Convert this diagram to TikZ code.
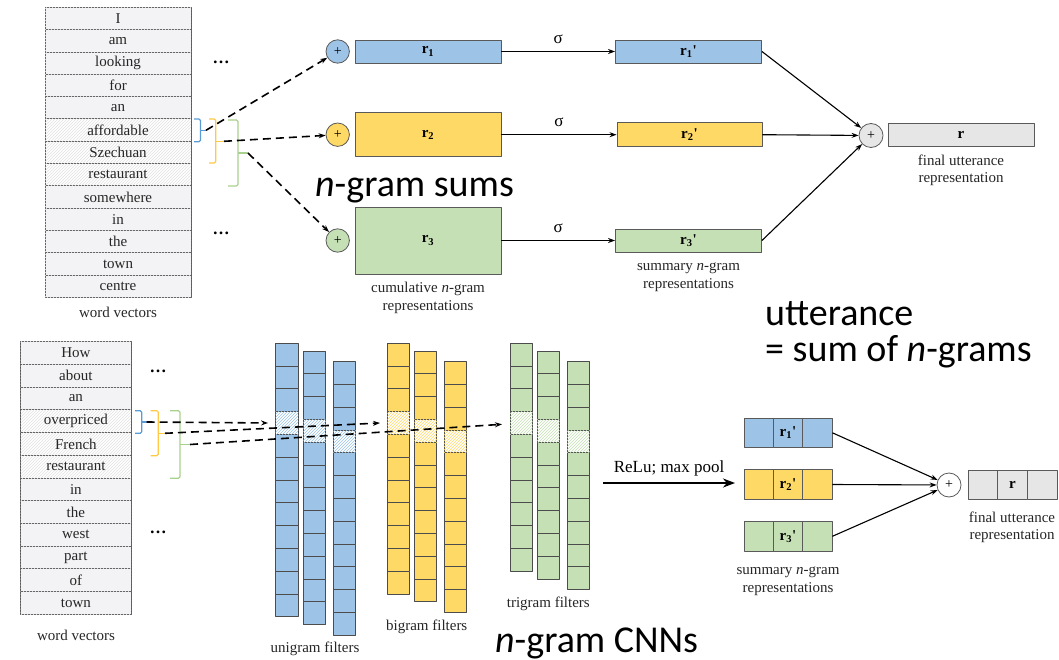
\documentclass[tikz,border=0pt]{standalone}
\usepackage{fontspec}
\setmainfont{Liberation Serif}
\newfontfamily\calib{Carlito}
\usepackage{tikz}
\usetikzlibrary{arrows.meta,patterns}

\definecolor{cellgray}{HTML}{F3F3F5}
\definecolor{hatchgray}{HTML}{E2E2E4}
\definecolor{linegray}{HTML}{5A5A5A}
\definecolor{bluefill}{HTML}{9DC3E6}
\definecolor{yellowfill}{HTML}{FFD966}
\definecolor{greenfill}{HTML}{C5E0B4}
\definecolor{sumgray}{HTML}{E7E6E6}
\definecolor{braceblue}{HTML}{5B9BD5}
\definecolor{braceyellow}{HTML}{FFC845}
\definecolor{bracegreen}{HTML}{A9D18E}

\begin{document}
\begin{tikzpicture}[x=1pt,y=-1pt,line join=round,
  word/.style={draw=linegray,line width=0.9pt,inner sep=0pt,text=black!85,font=\fontsize{15}{16}\selectfont},
  vec/.style={draw=linegray,line width=0.9pt,inner sep=0pt,minimum width=146pt,font=\fontsize{15}{16}\selectfont\bfseries},
  plus/.style={circle,draw=linegray,line width=0.8pt,inner sep=0pt,minimum size=23.4pt,font=\fontsize{14}{14}\selectfont},
  cell/.style={draw=linegray,line width=0.9pt,inner sep=0pt,minimum width=29.3pt,minimum height=29.5pt,font=\fontsize{15}{16}\selectfont\bfseries},
  filt/.style={draw=black!70,line width=0.9pt},
  brace/.style={line width=1.2pt,rounded corners=1.5pt},
  dasharrow/.style={line width=1.6pt,dash pattern=on 8pt off 5pt,-{Stealth[length=7pt,width=5pt]}},
  arr/.style={line width=1.1pt,-{Stealth[length=7pt,width=5pt]}},
  lbl/.style={align=center,text=black!85,font=\fontsize{15}{17.5}\selectfont},
  big/.style={anchor=base west,inner sep=0pt,font=\calib\fontsize{38}{38}\selectfont}]

\useasboundingbox (0,0) rectangle (1059,660);

\foreach \w/\f/\p [count=\i] in {I/cellgray/cellgray,am/cellgray/cellgray,looking/cellgray/cellgray,for/cellgray/cellgray,an/cellgray/cellgray,affordable/white/hatchgray,Szechuan/white/hatchgray,restaurant/white/hatchgray,somewhere/cellgray/cellgray,in/cellgray/cellgray,the/cellgray/cellgray,town/cellgray/cellgray,centre/cellgray/cellgray}
  \node[word,fill=\f,postaction={pattern=north east lines,pattern color=\p},minimum width=146pt,minimum height=22.33pt] (t\i) at (118,{7.3+22.33*(\i-0.5)}) {\w};
\node[lbl] (tw) at (118,312) {word vectors};
\node[font=\fontsize{17}{17}\selectfont\bfseries] (td1) at (221,62) {\dots};
\node[font=\fontsize{17}{17}\selectfont\bfseries] (td2) at (221,233) {\dots};

\draw[brace,braceblue] (194,119) -- (200.5,119) -- (200.5,141.7) -- (194,141.7);
\draw[brace,braceyellow] (209,119) -- (215.7,119) -- (215.7,163) -- (209,163);
\draw[brace,bracegreen] (228,120) -- (238,120) -- (238,186) -- (228,186);
\coordinate (tb) at (206,130.3);
\coordinate (ty) at (224,141.3);
\coordinate (tg) at (248,153);
\draw[brace,braceblue] (200.5,130.3) -- (tb);
\draw[brace,braceyellow] (215.7,141.3) -- (ty);
\draw[brace,bracegreen] (238,153) -- (tg);

\node[plus,fill=bluefill] (p1) at (337.7,51.5) {+};
\node[plus,fill=yellowfill] (p2) at (337.7,134.7) {+};
\node[plus,fill=greenfill] (p3) at (337.7,240.5) {+};
\draw[dasharrow] (tb) -- (p1);
\draw[dasharrow] (ty) -- (p2);
\draw[dasharrow] (tg) -- (p3);

\node[vec,fill=bluefill,minimum height=23pt] (r1) at (428,51.5) {r\textsubscript{1}};
\node[vec,fill=yellowfill,minimum height=44pt] (r2) at (428,134.7) {r\textsubscript{2}};
\node[vec,fill=greenfill,minimum height=67pt] (r3) at (428,240.5) {r\textsubscript{3}};
\node[lbl] (rl) at (428,298) {cumulative \textit{n}-gram\\representations};

\node[vec,fill=bluefill,minimum height=23pt] (q1) at (688.5,51.5) {r\textsubscript{1}\textquotesingle};
\node[vec,fill=yellowfill,minimum height=24pt,minimum width=145pt] (q2) at (689.5,134.7) {r\textsubscript{2}\textquotesingle};
\node[vec,fill=greenfill,minimum height=23pt] (q3) at (688.5,240.5) {r\textsubscript{3}\textquotesingle};
\node[lbl] (ql) at (688.5,277) {summary \textit{n}-gram\\representations};

\draw[arr] (r1) -- node[above=4pt,font=\fontsize{17}{17}\selectfont] {σ} (q1);
\draw[arr] (r2) -- node[above=4pt,font=\fontsize{17}{17}\selectfont] {σ} (q2);
\draw[arr] (r3) -- node[above=4pt,font=\fontsize{17}{17}\selectfont] {σ} (q3);

\node[plus,fill=sumgray,minimum size=24pt] (s1) at (871,135.5) {+};
\node[vec,fill=sumgray,minimum height=23.7pt] (u1) at (961,135) {r};
\node[lbl] (ul) at (961,170.4) {final utterance\\representation};
\draw[arr] (q1.east) -- (s1);
\draw[arr] (q2.east) -- (s1);
\draw[arr] (q3.east) -- (s1);

\node[big] (tsum) at (315,196.7) {\textit{n}-gram sums};
\node[big] (tut1) at (765,325) {utterance};
\node[big] (tut2) at (765,361.7) {= sum of \textit{n}-grams};

\foreach \w/\f/\p [count=\i] in {How/cellgray/cellgray,about/cellgray/cellgray,an/cellgray/cellgray,overpriced/white/hatchgray,French/white/hatchgray,restaurant/white/hatchgray,in/cellgray/cellgray,the/cellgray/cellgray,west/cellgray/cellgray,part/cellgray/cellgray,of/cellgray/cellgray,town/cellgray/cellgray}
  \node[word,fill=\f,postaction={pattern=north east lines,pattern color=\p},minimum width=110.3pt,minimum height=22.72pt] (b\i) at (75.85,{341.7+22.72*(\i-0.5)}) {\w};
\node[lbl] (bw) at (76,635) {word vectors};
\node[font=\fontsize{17}{17}\selectfont\bfseries] (bd1) at (158,371) {\dots};
\node[font=\fontsize{17}{17}\selectfont\bfseries] (bd2) at (158,532) {\dots};

\foreach \cx/\cy/\n/\c in {275.7/343.3/12/bluefill,303.3/351/12/bluefill,333.3/361.7/12/bluefill,
  387.3/343.3/11/yellowfill,414.3/351/11/yellowfill,444/361.7/11/yellowfill,
  510/343.3/10/greenfill,537/351/10/greenfill,567/361.7/10/greenfill}{
  \foreach \k in {1,...,\n}
    \draw[filt,fill=\c] (\cx,{\cy+22.8*(\k-1)}) rectangle ++(22.6,22.8);
  \draw[filt,fill=white,postaction={pattern=north east lines,pattern color=\c}] (\cx,{\cy+22.8*3}) rectangle ++(22.6,22.8);
}
\node[lbl] (fu) at (315,649.3) {unigram filters};
\node[lbl] (fb) at (426.7,626.7) {bigram filters};
\node[lbl] (ft) at (548.3,604.3) {trigram filters};

\draw[brace,braceblue] (135,410.7) -- (141.7,410.7) -- (141.7,433.3) -- (135,433.3);
\draw[brace,braceyellow] (150.7,410.7) -- (158.3,410.7) -- (158.3,455.7) -- (150.7,455.7);
\draw[brace,bracegreen] (170,410.7) -- (180,410.7) -- (180,478.3) -- (170,478.3);
\coordinate (bb) at (146.7,422);
\coordinate (by) at (165,433.3);
\coordinate (bg) at (190,444.5);
\draw[brace,braceblue] (141.7,422) -- (bb);
\draw[brace,braceyellow] (158.3,433.3) -- (by);
\draw[brace,bracegreen] (180,444.5) -- (bg);
\coordinate (ub) at (268,423);
\coordinate (uy) at (380,423);
\coordinate (ug) at (502,424.3);
\draw[dasharrow] (bb) -- (ub);
\draw[dasharrow] (by) -- (uy);
\draw[dasharrow] (bg) -- (ug);

\coordinate (m1) at (603,483);
\coordinate (m2) at (735,483);
\draw[line width=2.4pt,-{Stealth[length=12pt,width=9pt]}] (m1) -- node[above=2pt,font=\fontsize{17}{17}\selectfont] {ReLu; max pool} (m2);

\node[cell,fill=bluefill] (n1a) at (758.7,432.8) {};
\node[cell,fill=bluefill] (n1) at (788,432.8) {r\textsubscript{1}\textquotesingle};
\node[cell,fill=bluefill] (n1c) at (817.3,432.8) {};
\node[cell,fill=yellowfill] (n2a) at (758.7,484.5) {};
\node[cell,fill=yellowfill] (n2) at (788,484.5) {r\textsubscript{2}\textquotesingle};
\node[cell,fill=yellowfill] (n2c) at (817.3,484.5) {};
\node[cell,fill=greenfill] (n3a) at (758.7,536.3) {};
\node[cell,fill=greenfill] (n3) at (788,536.3) {r\textsubscript{3}\textquotesingle};
\node[cell,fill=greenfill] (n3c) at (817.3,536.3) {};
\node[lbl] (nl) at (788,581) {summary \textit{n}-gram\\representations};

\node[plus,fill=white,minimum size=24pt] (s2) at (949,485) {+};
\node[cell,fill=sumgray,minimum width=29.7pt] (v1) at (982.8,485) {};
\node[cell,fill=sumgray,minimum width=29.7pt] (v2) at (1012.5,485) {r};
\node[cell,fill=sumgray,minimum width=29.7pt] (v3) at (1042.2,485) {};
\node[lbl] (vl) at (1012,527.3) {final utterance\\representation};
\draw[arr] (n1c.east) -- (s2);
\draw[arr] (n2c.east) -- (s2);
\draw[arr] (n3c.east) -- (s2);

\node[big] (tcnn) at (495,652) {\textit{n}-gram CNNs};
\end{tikzpicture}
\end{document}
